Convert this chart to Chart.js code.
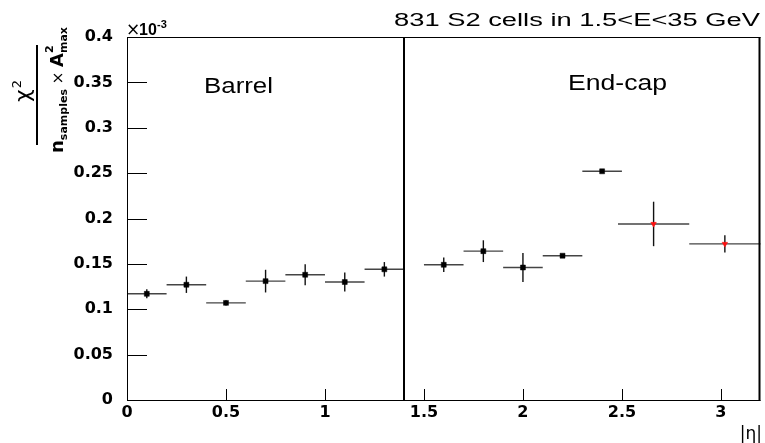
<!DOCTYPE html>
<html>
<head>
<meta charset="utf-8">
<title>chi2 per cell vs |eta|</title>
<script src="https://cdn.jsdelivr.net/npm/chart.js@4.4.1/dist/chart.umd.min.js"></script>
<style>
  body { margin: 0; background: #fff; }
  #chart { display: block; }
</style>
</head>
<body>
<canvas id="chart" width="765" height="443"></canvas>
<script>
// bins in |eta| (low edge, high edge, marker position)
const etaLow  = [0.0, 0.2, 0.4, 0.6, 0.8, 1.0, 1.2, 1.5, 1.7, 1.9, 2.1, 2.3, 2.48, 2.84];
const etaHigh = [0.2, 0.4, 0.6, 0.8, 1.0, 1.2, 1.4, 1.7, 1.9, 2.1, 2.3, 2.5, 2.84, 3.2];
const etaMid  = [0.1, 0.3, 0.5, 0.7, 0.9, 1.1, 1.3, 1.6, 1.8, 2.0, 2.2, 2.4, 2.66, 3.02];

// chi2 / (n_samples * A2max), in units of 1e-3
const chi2Values = [0.117, 0.127, 0.107, 0.131, 0.138, 0.130, 0.144,
                    0.149, 0.164, 0.146, 0.159, 0.252, 0.194, 0.172];
const chi2Errors = [0.005, 0.009, 0.003, 0.0125, 0.0115, 0.0105, 0.008,
                    0.008, 0.012, 0.016, 0.001, 0.001, 0.0245, 0.0095];
// last two bins are drawn with red markers
const redMarker = [false, false, false, false, false, false, false,
                   false, false, false, false, false, true, true];

const xTicks = [0, 0.5, 1, 1.5, 2, 2.5, 3];
const yTicks = [0, 0.05, 0.1, 0.15, 0.2, 0.25, 0.3, 0.35, 0.4];
const barrelEdge = 1.4;

const titleText = "831 S2 cells in 1.5<E<35 GeV";
const barrelLabel = "Barrel";
const endcapLabel = "End-cap";

// draw text squeezed/stretched horizontally to a given width
function wideText(ctx, str, x, y, width, align) {
    const w = ctx.measureText(str).width;
    ctx.save();
    ctx.translate(x, y);
    ctx.scale(width / w, 1);
    ctx.textAlign = align;
    ctx.fillText(str, 0, 0);
    ctx.restore();
}

// error bars for every bin
const errorBars = {
    id: "errorBars",
    beforeDatasetsDraw(chart) {
        const ctx = chart.ctx;
        const xs = chart.scales.x, ys = chart.scales.y;
        ctx.save();
        ctx.lineWidth = 1.4;
        for (let i = 0; i < chi2Values.length; i++) {
            const y = ys.getPixelForValue(chi2Values[i]);
            const xm = xs.getPixelForValue(etaMid[i]);
            ctx.strokeStyle = "#444";
            ctx.beginPath();
            ctx.moveTo(xs.getPixelForValue(etaLow[i]), y);
            ctx.lineTo(xs.getPixelForValue(etaHigh[i]), y);
            ctx.stroke();
            ctx.strokeStyle = "#111";
            ctx.beginPath();
            ctx.moveTo(xm, ys.getPixelForValue(chi2Values[i] + chi2Errors[i]));
            ctx.lineTo(xm, ys.getPixelForValue(chi2Values[i] - chi2Errors[i]));
            ctx.stroke();
        }
        ctx.restore();
    }
};

// frame, inner ticks, barrel/end-cap line and all the ROOT style text
const rootFrame = {
    id: "rootFrame",
    afterDraw(chart) {
        const ctx = chart.ctx;
        const a = chart.chartArea;
        const xs = chart.scales.x, ys = chart.scales.y;
        ctx.save();
        ctx.strokeStyle = "#000";
        ctx.lineWidth = 1;

        // y ticks pointing into the plot
        yTicks.forEach(v => {
            const y = Math.round(ys.getPixelForValue(v)) + 0.5;
            ctx.beginPath();
            ctx.moveTo(a.left, y);
            ctx.lineTo(a.left + 20, y);
            ctx.stroke();
        });
        // x ticks pointing up
        xTicks.forEach(v => {
            const x = Math.round(xs.getPixelForValue(v)) + 0.5;
            ctx.beginPath();
            ctx.moveTo(x, a.bottom);
            ctx.lineTo(x, a.bottom - 11);
            ctx.stroke();
        });

        // frame
        ctx.beginPath();
        ctx.moveTo(a.left + 0.5, a.top + 0.5);
        ctx.lineTo(a.right, a.top + 0.5);
        ctx.moveTo(a.left + 0.5, a.top);
        ctx.lineTo(a.left + 0.5, a.bottom + 0.5);
        ctx.lineTo(a.right, a.bottom + 0.5);
        ctx.stroke();
        ctx.lineWidth = 2;
        ctx.beginPath();
        ctx.moveTo(a.right - 1, a.top);
        ctx.lineTo(a.right - 1, a.bottom + 1);
        ctx.stroke();

        // barrel / end-cap boundary
        const xb = Math.round(xs.getPixelForValue(barrelEdge));
        ctx.beginPath();
        ctx.moveTo(xb, a.top);
        ctx.lineTo(xb, a.bottom);
        ctx.stroke();

        ctx.fillStyle = "#000";
        ctx.textBaseline = "alphabetic";

        // title
        ctx.font = "18px 'Liberation Sans'";
        wideText(ctx, titleText, 760, 26, 366, "right");

        // region labels
        ctx.font = "22px 'Liberation Sans'";
        wideText(ctx, barrelLabel, 204, 93, 69, "left");
        wideText(ctx, endcapLabel, 568, 90, 99, "left");

        // x10^-3 multiplier
        ctx.textAlign = "left";
        ctx.font = "17px 'DejaVu Sans'";
        ctx.fillText("\u00d7", a.left - 1, 35);
        ctx.font = "bold 16px 'Liberation Sans'";
        ctx.fillText("10", a.left + 12, 35);
        ctx.font = "bold 11px 'Liberation Sans'";
        ctx.fillText("-3", a.left + 30, 28);

        // x axis title
        ctx.font = "17px 'DejaVu Sans'";
        ctx.textAlign = "right";
        ctx.fillText("|\u03b7|", 762, 439);

        // y axis title: chi2 / (n_samples x A2_max), rotated
        ctx.save();
        ctx.rotate(-Math.PI / 2);
        ctx.textAlign = "left";
        // denominator, measured first so it can be centred
        const parts = [
            { t: "n", f: "bold 18px 'DejaVu Sans'", dv: 0 },
            { t: "samples", f: "bold 11px 'DejaVu Sans'", dv: 4 },
            { t: " \u00d7 ", f: "15px 'DejaVu Sans'", dv: 0 },
            { t: "A", f: "bold 18px 'DejaVu Sans'", dv: 0 },
            { t: "max", f: "bold 11px 'DejaVu Sans'", dv: 4, sup: "2" }
        ];
        let total = 0;
        parts.forEach(p => { ctx.font = p.f; p.w = ctx.measureText(p.t).width; total += p.w; });
        let u = -(90 + total / 2);
        const vBase = 63;
        parts.forEach(p => {
            ctx.font = p.f;
            ctx.fillText(p.t, u, vBase + p.dv);
            if (p.sup) ctx.fillText(p.sup, u, vBase - 10);
            u += p.w;
        });
        // numerator
        ctx.font = "22px 'DejaVu Sans'";
        const wc = ctx.measureText("\u03c7").width;
        ctx.fillText("\u03c7", -102, 30);
        ctx.font = "13px 'DejaVu Sans'";
        ctx.fillText("2", -102 + wc + 1, 21);
        ctx.restore();
        // fraction bar
        ctx.fillRect(36, 45, 2, 100);

        ctx.restore();
    }
};

const points = etaMid.map((x, i) => ({ x: x, y: chi2Values[i] }));

new Chart(document.getElementById("chart"), {
    type: "scatter",
    data: {
        datasets: [{
            label: "chi2",
            data: points,
            pointStyle: c => redMarker[c.dataIndex] ? "triangle" : "rect",
            rotation: c => redMarker[c.dataIndex] ? 180 : 0,
            pointRadius: c => redMarker[c.dataIndex] ? 3.2 : 3.5,
            pointBackgroundColor: c => redMarker[c.dataIndex] ? "#ff1010" : "#000",
            pointBorderColor: c => redMarker[c.dataIndex] ? "#ff1010" : "#000",
            pointBorderWidth: 0.5
        }]
    },
    options: {
        responsive: false,
        animation: false,
        events: [],
        layout: { padding: { top: 37, right: 3, left: 0, bottom: 0 } },
        plugins: {
            legend: { display: false },
            tooltip: { enabled: false },
            title: { display: false }
        },
        scales: {
            x: {
                type: "linear",
                min: 0,
                max: 3.2,
                grid: { display: false, drawTicks: false },
                border: { display: false },
                afterFit: s => { s.height = 43; },
                ticks: {
                    stepSize: 0.5,
                    includeBounds: false,
                    padding: 3,
                    maxRotation: 0,
                    color: "#000",
                    font: { family: "'DejaVu Sans'", size: 16, weight: "bold" },
                    callback: v => String(parseFloat(v.toFixed(2)))
                }
            },
            y: {
                type: "linear",
                min: 0,
                max: 0.4,
                grid: { display: false, drawTicks: false },
                border: { display: false },
                afterFit: s => { s.width = 127; },
                ticks: {
                    stepSize: 0.05,
                    padding: 14,
                    color: "#000",
                    font: { family: "'DejaVu Sans'", size: 16, weight: "bold" },
                    callback: v => String(parseFloat(v.toFixed(2)))
                }
            }
        }
    },
    plugins: [errorBars, rootFrame]
});
</script>
</body>
</html>
